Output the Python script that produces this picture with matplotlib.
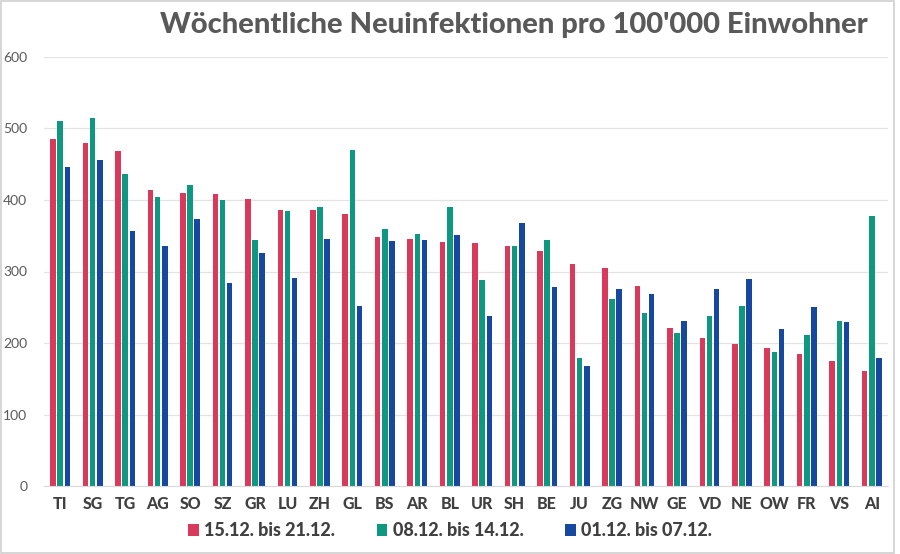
import matplotlib
matplotlib.use("Agg")
import matplotlib.pyplot as plt
import numpy as np
from matplotlib.patches import Rectangle

cantons = ["TI", "SG", "TG", "AG", "SO", "SZ", "GR", "LU", "ZH", "GL", "BS", "AR", "BL",
           "UR", "SH", "BE", "JU", "ZG", "NW", "GE", "VD", "NE", "OW", "FR", "VS", "AI"]
week_15_21 = [486, 480, 469, 414, 410, 408, 401, 386, 386, 381, 348, 345, 341,
              340, 335, 329, 310, 305, 280, 221, 207, 199, 193, 185, 175, 161]
week_08_14 = [510, 515, 437, 404, 421, 400, 344, 385, 390, 470, 359, 352, 390,
              288, 335, 344, 179, 261, 242, 214, 238, 252, 187, 211, 231, 378]
week_01_07 = [446, 456, 357, 335, 373, 284, 326, 291, 345, 252, 343, 344, 351,
              238, 368, 278, 168, 276, 268, 231, 276, 289, 220, 250, 229, 179]
series_labels = ["15.12. bis 21.12.", "08.12. bis 14.12.", "01.12. bis 07.12."]
colors = ["#D9395A", "#0E9882", "#1748A0"]
yticks = [0, 100, 200, 300, 400, 500, 600]
title = "Wöchentliche Neuinfektionen pro 100'000 Einwohner"

plt.rcParams['font.family'] = ['Lato', 'DejaVu Sans']

fig = plt.figure(figsize=(9, 5.54), dpi=100)
ax = fig.add_axes([44/900, 1-486/554, (888-44)/900, (486-57)/554])

x = np.arange(len(cantons))
w = 0.17
off = 0.22
for i, (vals, c, lab) in enumerate(zip([week_15_21, week_08_14, week_01_07], colors, series_labels)):
    ax.bar(x + (i-1)*off, vals, width=w, color=c, label=lab, zorder=3)

ax.set_ylim(0, 600)
ax.set_xlim(-0.5, len(cantons)-0.5)
ax.set_yticks(yticks)
ax.set_yticklabels([str(t) for t in yticks], fontsize=10, color="#595959")
ax.set_xticks(x)
ax.set_xticklabels(cantons, fontsize=11.5, fontweight="black", color="#404040")
ax.tick_params(axis="both", length=0)
ax.tick_params(axis="x", pad=7)
ax.tick_params(axis="y", pad=12)
ax.grid(axis="y", color="#E3E3E3", linewidth=0.9, zorder=0)
for s in ["top", "right", "left"]:
    ax.spines[s].set_visible(False)
ax.spines["bottom"].set_color("#D9D9D9")
ax.spines["bottom"].set_zorder(4)

fig.text(868/900, 1-25/554, title, ha="right", va="center", fontsize=21,
         fontweight="black", color="#595959")

leg = fig.legend(loc="center", bbox_to_anchor=(0.5, 1-531/554), ncol=3, frameon=False,
                 prop={"size": 13, "weight": "black"}, handlelength=0.6, handleheight=0.6,
                 handletextpad=0.3, columnspacing=2.3)
for t in leg.get_texts():
    t.set_color("#404040")

fig.patches.append(Rectangle((0.001, 0.002), 0.992, 0.996, transform=fig.transFigure,
                             fill=False, edgecolor="#D0D0D0", linewidth=1.2))

fig.savefig("out.png", dpi=100, facecolor="white")
